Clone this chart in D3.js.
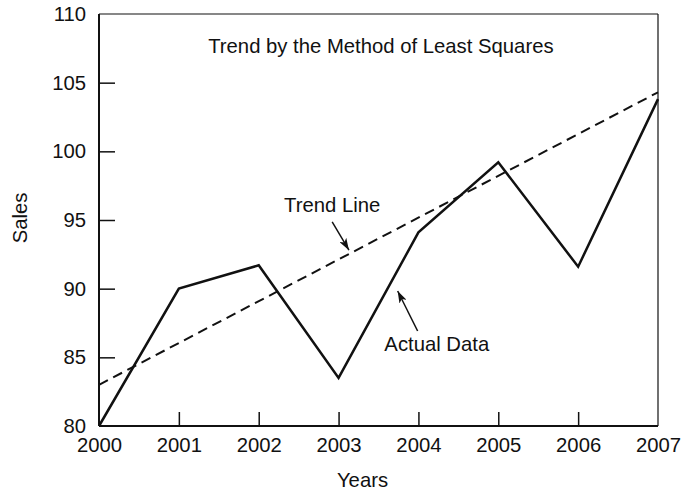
<!DOCTYPE html>
<html>
<head>
<meta charset="utf-8">
<script src="https://cdn.jsdelivr.net/npm/d3@7"></script>
<style>
  body { margin: 0; background: #fff; }
  svg { font-family: "Liberation Sans", Arial, sans-serif; }
</style>
</head>
<body>
<svg id="chart"></svg>
<script>
const years = [2000, 2001, 2002, 2003, 2004, 2005, 2006, 2007];
const sales = [80, 90, 91.7, 83.5, 94.1, 99.2, 91.6, 103.8];
const trendYears = [2000, 2007];
const trendSales = [83.0, 104.3];
const yTicks = [80, 85, 90, 95, 100, 105, 110];

const width = 684;
const height = 490;
const margin = { top: 14, right: 26, bottom: 64, left: 99 };
const fs = "20.3px";

const svg = d3.select("#chart")
  .attr("width", width)
  .attr("height", height);

const x = d3.scaleLinear().domain([2000, 2007]).range([margin.left, width - margin.right]);
const y = d3.scaleLinear().domain([80, 110]).range([height - margin.bottom, margin.top]);

// arrowhead
svg.append("defs").append("marker")
  .attr("id", "arrow")
  .attr("viewBox", "0 0 12 8")
  .attr("refX", 12).attr("refY", 4)
  .attr("markerWidth", 12).attr("markerHeight", 8)
  .attr("markerUnits", "userSpaceOnUse")
  .attr("orient", "auto")
  .append("path")
  .attr("d", "M0,0L12,4L0,8L3,4Z")
  .attr("fill", "#111");

// axes, ticks pointing inward
const xAxis = d3.axisBottom(x)
  .tickValues(years)
  .tickFormat(d3.format("d"))
  .tickSizeInner(-14).tickSizeOuter(0).tickPadding(12);

const yAxis = d3.axisLeft(y)
  .tickValues(yTicks)
  .tickSizeInner(-16).tickSizeOuter(0).tickPadding(13);

const gx = svg.append("g")
  .attr("transform", `translate(0,${y(80)})`)
  .call(xAxis);
const gy = svg.append("g")
  .attr("transform", `translate(${x(2000)},0)`)
  .call(yAxis);

[gx, gy].forEach(g => {
  g.select(".domain").remove();
  g.selectAll("line").attr("stroke", "#111").attr("stroke-width", 1.5);
  g.selectAll("text").attr("fill", "#111").style("font-size", fs);
});
gy.selectAll("text").attr("dy", "0.32em");
gx.selectAll(".tick").filter(d => d === 2000 || d === 2007).select("line").remove();
gy.selectAll(".tick").filter(d => d === 80 || d === 110).select("line").remove();

// frame
const frame = svg.append("g").attr("stroke", "#111").attr("fill", "none");
frame.append("line")
  .attr("x1", x(2000)).attr("x2", x(2007)).attr("y1", y(110)).attr("y2", y(110))
  .attr("stroke-width", 1.2);
frame.append("line")
  .attr("x1", x(2007)).attr("x2", x(2007)).attr("y1", y(110)).attr("y2", y(80))
  .attr("stroke-width", 1.2);
frame.append("line")
  .attr("x1", x(2000)).attr("x2", x(2007)).attr("y1", y(80)).attr("y2", y(80))
  .attr("stroke-width", 2);
frame.append("line")
  .attr("x1", x(2000)).attr("x2", x(2000)).attr("y1", y(110)).attr("y2", y(80))
  .attr("stroke-width", 2);

// trend line
const trendData = trendYears.map((d, i) => [d, trendSales[i]]);
svg.append("path")
  .datum(trendData)
  .attr("fill", "none")
  .attr("stroke", "#111")
  .attr("stroke-width", 2)
  .attr("stroke-dasharray", "10,6")
  .attr("d", d3.line().x(d => x(d[0])).y(d => y(d[1])));

// actual data
const actualData = years.map((d, i) => [d, sales[i]]);
svg.append("path")
  .datum(actualData)
  .attr("fill", "none")
  .attr("stroke", "#111")
  .attr("stroke-width", 2.5)
  .attr("stroke-linejoin", "miter")
  .attr("d", d3.line().x(d => x(d[0])).y(d => y(d[1])));

// title and annotations
svg.append("text")
  .attr("x", x(2003.53)).attr("y", y(107.17))
  .attr("text-anchor", "middle")
  .style("font-size", fs).attr("fill", "#111")
  .text("Trend by the Method of Least Squares");

const notes = [
  { label: "Trend Line", tx: 2002.92, ty: 95.6, from: [2002.92, 94.86], to: [2003.13, 92.8] },
  { label: "Actual Data", tx: 2004.23, ty: 85.46, from: [2003.99, 86.92], to: [2003.74, 89.83] }
];
notes.forEach(n => {
  svg.append("text")
    .attr("x", x(n.tx)).attr("y", y(n.ty))
    .attr("text-anchor", "middle")
    .style("font-size", fs).attr("fill", "#111")
    .text(n.label);
  svg.append("line")
    .attr("x1", x(n.from[0])).attr("y1", y(n.from[1]))
    .attr("x2", x(n.to[0])).attr("y2", y(n.to[1]))
    .attr("stroke", "#111").attr("stroke-width", 1.5)
    .attr("marker-end", "url(#arrow)");
});

// axis titles
svg.append("text")
  .attr("transform", `translate(27,218) rotate(-90)`)
  .attr("text-anchor", "middle")
  .style("font-size", fs).attr("fill", "#111")
  .text("Sales");

svg.append("text")
  .attr("x", x(2003.3)).attr("y", 487)
  .attr("text-anchor", "middle")
  .style("font-size", fs).attr("fill", "#111")
  .text("Years");
</script>
</body>
</html>
